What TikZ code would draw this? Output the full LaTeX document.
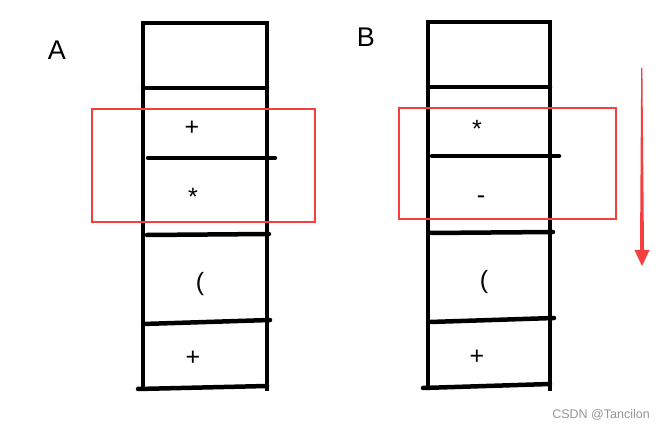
\documentclass[tikz,border=0pt]{standalone}
\usepackage{fontspec}
\setmainfont{Liberation Sans}
\definecolor{redbox}{RGB}{245,62,62}
\definecolor{wm}{RGB}{150,150,150}
\begin{document}
\begin{tikzpicture}[x=1pt,y=-1pt,
  stk/.style={line width=4.5pt, black, line cap=round},
  hl/.style={draw=redbox, line width=2.4pt},
  sym/.style={font=\fontsize{25}{25}\selectfont, inner sep=0pt},
  lbl/.style={font=\fontsize{27}{27}\selectfont, inner sep=0pt}]
\path[use as bounding box, fill=white] (0,0) rectangle (665,430);

% ---------- Stack A ----------
\draw[stk, line cap=butt, line join=miter] (143,390) -- (143,23) -- (267,23) -- (267,391);
\draw[stk] (143,88) -- (267,88);
\draw[stk] (148,158) -- (275,158);
\draw[stk] (147,235) -- (269,234);
\draw[stk] (143,324) -- (270,320);
\draw[stk] (138,389) -- (267,386);
\draw[hl] (92,109) rectangle (315,222);
\node[lbl] (la) at (57,50) {A};
\node[sym] (a1) at (192,128) {+};
\node[sym] (a2) at (193,197) {*};
\node[sym] (a3) at (200,284) {(};
\node[sym] (a4) at (193,358) {+};

% ---------- Stack B ----------
\draw[stk, line cap=butt, line join=miter] (428,390) -- (428,22) -- (550,22) -- (550,391);
\draw[stk] (428,87) -- (550,87);
\draw[stk] (432,156) -- (559,156);
\draw[stk] (430,233) -- (553,232);
\draw[stk] (430,322) -- (554,318);
\draw[stk] (423,388) -- (550,384);
\draw[hl] (399,108) rectangle (616,219);
\node[lbl] (lb) at (366,37) {B};
\node[sym] (b1) at (477,129) {*};
\node[sym] (b2) at (481,200) {-};
\node[sym] (b3) at (484,282) {(};
\node[sym] (b4) at (477,357) {+};

% ---------- red arrow ----------
\fill[redbox] (641.2,68) -- (640.0,250) -- (634.5,250) -- (642,266) -- (649.5,250) -- (644.0,250) -- (642.4,68) -- cycle;

% ---------- watermark ----------
\node[font=\fontsize{12.5}{12.5}\selectfont, text=wm, anchor=east, inner sep=0pt] (wmk) at (650,415) {CSDN @Tancilon};
\end{tikzpicture}
\end{document}
